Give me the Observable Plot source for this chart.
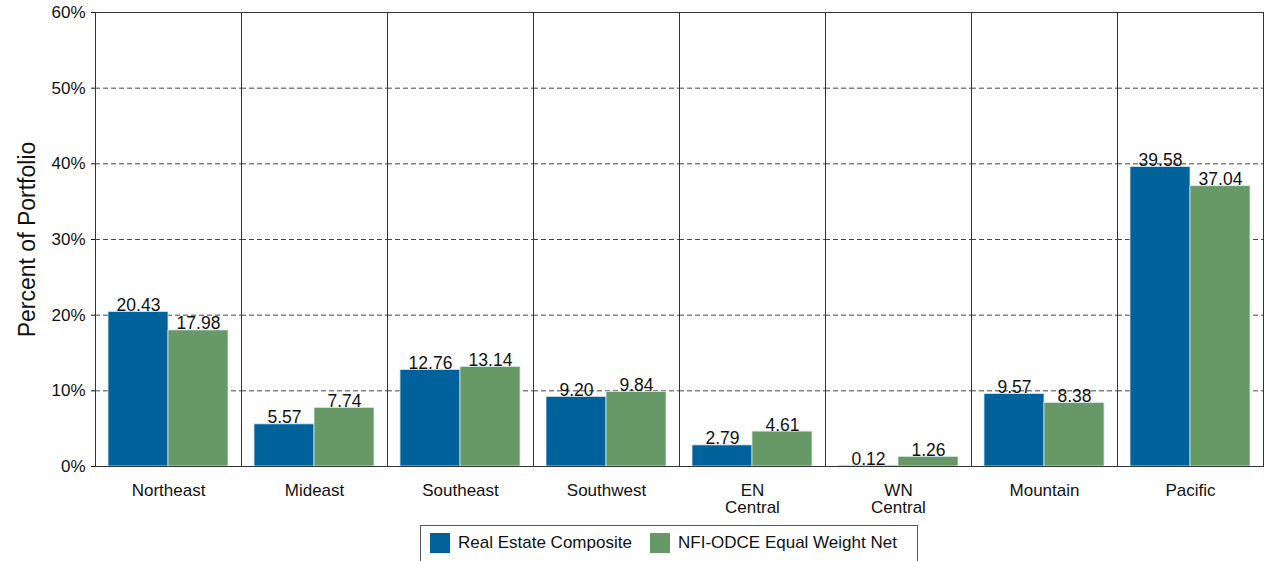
<!DOCTYPE html>
<html>
<head>
<meta charset="utf-8">
<script src="https://cdn.jsdelivr.net/npm/d3@7"></script>
<script src="https://cdn.jsdelivr.net/npm/@observablehq/plot@0.6"></script>
<style>
  html, body { margin: 0; padding: 0; background: #fff; }
  body { width: 1266px; height: 561px; overflow: hidden; font-family: "Liberation Sans", Arial, sans-serif; }
  #chart svg { display: block; }
  #chart g[aria-label="y-axis label"] text { font-size: 23px; }
  .legend { position: absolute; left: 420px; top: 525px; width: 498px; height: 50px; border: 1px solid #555; box-sizing: border-box; }
  .item { position: absolute; top: 7px; display: flex; align-items: center; font-size: 17px; color: #111; }
  .sw { width: 20px; height: 20px; margin-right: 8px; }
</style>
</head>
<body>
<div id="chart"></div>
<div class="legend" id="legend"></div>
<script>
const regions = ["Northeast", "Mideast", "Southeast", "Southwest", "EN\nCentral", "WN\nCentral", "Mountain", "Pacific"];
const series = ["Real Estate Composite", "NFI-ODCE Equal Weight Net"];
const composite = [20.43, 5.57, 12.76, 9.20, 2.79, 0.12, 9.57, 39.58];
const odce = [17.98, 7.74, 13.14, 9.84, 4.61, 1.26, 8.38, 37.04];
const colors = ["#00629b", "#669966"];
const yTicks = [0, 10, 20, 30, 40, 50, 60];
const gridTicks = [10, 20, 30, 40, 50];

const data = [];
regions.forEach((r, i) => {
  data.push({region: r, series: series[0], value: composite[i]});
  data.push({region: r, series: series[1], value: odce[i]});
});

const chart = Plot.plot({
  width: 1266,
  height: 522,
  marginTop: 12,
  marginBottom: 56,
  marginLeft: 94,
  marginRight: 3,
  style: {fontFamily: "Liberation Sans, Arial, sans-serif", fontSize: "17px", color: "#111", background: "#fff"},
  fx: {domain: regions, padding: 0, label: null, axis: null},
  x: {domain: series, paddingInner: 0, paddingOuter: 0.2, axis: null},
  y: {domain: [0, 60], ticks: yTicks, tickFormat: d => d + "%", tickSize: 4, tickPadding: 6,
      label: "Percent of Portfolio", labelAnchor: "center", labelArrow: "none", labelOffset: 77},
  color: {domain: series, range: colors},
  marks: [
    Plot.axisFx({anchor: "bottom", tickSize: 0, tickPadding: 17, lineHeight: 1, fontSize: 17, label: null}),
    Plot.ruleY(gridTicks, {stroke: "#444", strokeDasharray: "5,3", strokeWidth: 1}),
    Plot.barY(data, {fx: "region", x: "series", y: "value", fill: "series", stroke: "#d8e6ee", strokeWidth: 0.8}),
    Plot.text(data, {fx: "region", x: "series", y: "value", text: d => d.value.toFixed(2), lineAnchor: "bottom", dy: -1, fontSize: 17.5, fill: "#111"}),
    Plot.frame({stroke: "#333", strokeWidth: 1})
  ]
});
document.getElementById("chart").appendChild(chart);

const legend = document.getElementById("legend");
const lefts = [9, 229];
series.forEach((s, i) => {
  const it = document.createElement("div");
  it.className = "item";
  it.style.left = lefts[i] + "px";
  const sw = document.createElement("div");
  sw.className = "sw";
  sw.style.background = colors[i];
  const t = document.createElement("span");
  t.textContent = s;
  it.appendChild(sw);
  it.appendChild(t);
  legend.appendChild(it);
});
</script>
</body>
</html>
